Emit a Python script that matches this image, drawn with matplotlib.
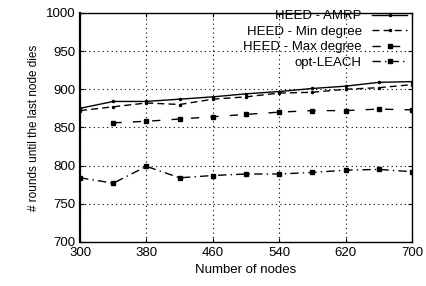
import matplotlib.pyplot as plt

# number of nodes in the network
nodes = [300, 340, 380, 420, 460, 500, 540, 580, 620, 660, 700]

# rounds until the last node dies
heed_amrp = [875, 884, 884, 887, 890, 894, 897, 901, 904, 909, 910]
heed_min = [872, 877, 882, 880, 887, 890, 895, 896, 900, 902, 906]
heed_max_nodes = [340, 380, 420, 460, 500, 540, 580, 620, 660, 700]
heed_max = [856, 858, 861, 864, 867, 870, 872, 872, 874, 873]
opt_leach = [784, 777, 799, 784, 787, 789, 789, 791, 794, 795, 792]

x_ticks = [300, 380, 460, 540, 620, 700]
y_ticks = [700, 750, 800, 850, 900, 950, 1000]

plt.rcParams['font.family'] = ['Liberation Sans', 'DejaVu Sans']

fig = plt.figure(figsize=(4.26, 2.86), dpi=100)
ax = fig.add_axes([0.188, 0.154, 0.779, 0.801])

# grid
ax.grid(True, color='black', linestyle=(0, (1, 3)), linewidth=0.8)
ax.set_axisbelow(True)

ax.plot(nodes, heed_amrp, color='black', linewidth=1.0, marker='.', markersize=3,
        label='HEED - AMRP')
ax.plot(nodes, heed_min, color='black', linewidth=1.0, linestyle=(0, (5, 3)),
        marker='.', markersize=3, label='HEED - Min degree')
ax.plot(heed_max_nodes, heed_max, color='black', linewidth=1.0,
        linestyle=(0, (6, 8)), marker='s', markersize=2.5, label='HEED - Max degree')
ax.plot(nodes, opt_leach, color='black', linewidth=1.0,
        linestyle=(0, (6, 3, 1, 3)), marker='s', markersize=3, label='opt-LEACH')

ax.set_xlim(300, 700)
ax.set_ylim(700, 1000)
ax.set_xticks(x_ticks)
ax.set_yticks(y_ticks)
ax.tick_params(direction='in', top=True, right=True, labelsize=9.5, length=3)
for s in ax.spines.values():
    s.set_linewidth(1.0)
ax.spines['left'].set_linewidth(1.6)

ax.set_xlabel('Number of nodes', fontsize=9.5)
ax.set_ylabel('# rounds until the last node dies', fontsize=8.5)

ax.legend(loc='upper right', bbox_to_anchor=(1.0, 1.035), frameon=False,
          markerfirst=False, fontsize=9.5, handlelength=2.6, labelspacing=0.25,
          borderaxespad=0.0, handletextpad=0.8)

fig.savefig('out.png', dpi=100)
